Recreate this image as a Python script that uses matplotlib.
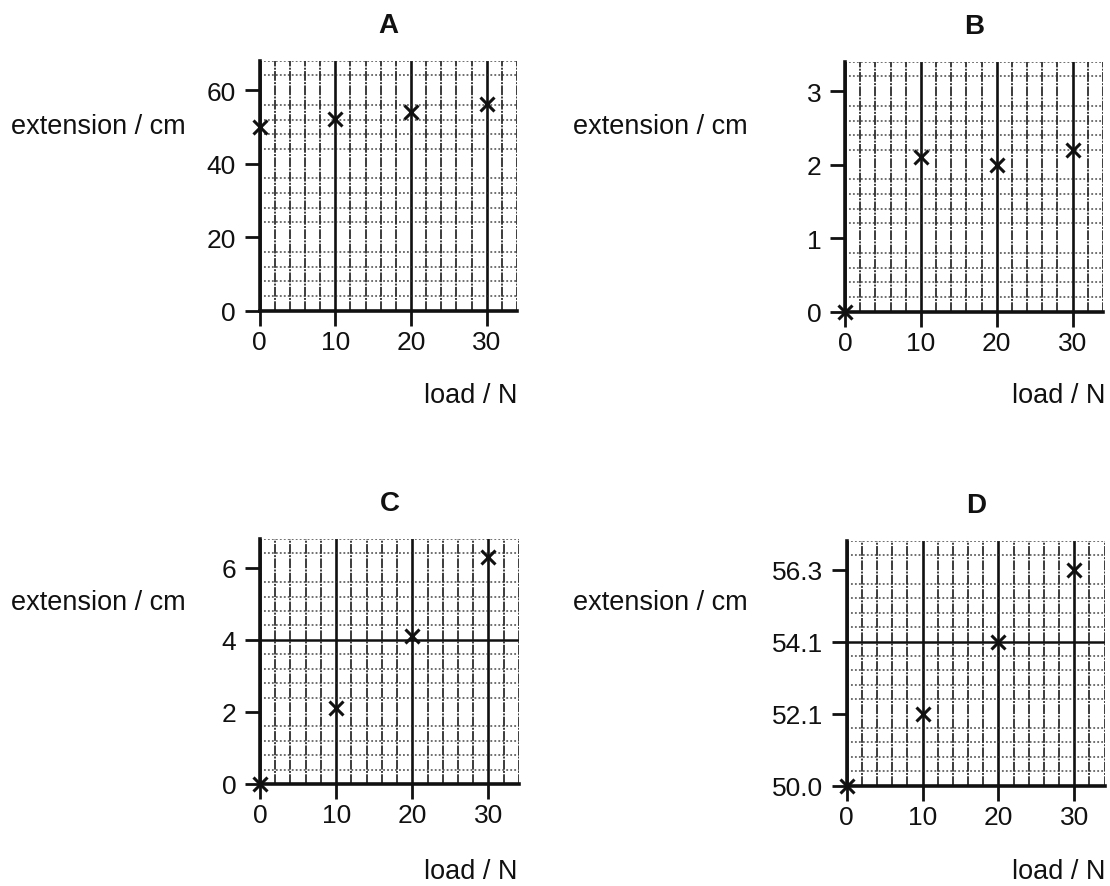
import matplotlib
matplotlib.use("Agg")
import matplotlib.pyplot as plt
import matplotlib.ticker as mticker
import numpy as np

plt.rcParams.update({
    "font.family": ["Liberation Sans", "DejaVu Sans"],
    "font.size": 19,
    "text.color": "#111111",
    "xtick.color": "#111111",
    "ytick.color": "#111111",
})

# data
load = [0, 10, 20, 30]
ext_a = [50.0, 52.1, 54.1, 56.3]
ext_b = [0.0, 2.1, 2.0, 2.2]
ext_c = [0.0, 2.1, 4.1, 6.3]
ext_d = [50.0, 52.1, 54.1, 56.3]

x_ticks = [0, 10, 20, 30]
a_ticks = [0, 20, 40, 60]
b_ticks = [0, 1, 2, 3]
c_ticks = [0, 2, 4, 6]
d_ticks = [50.0, 52.1, 54.1, 56.3]

INK = "#111111"


def d_forward(y):
    # D uses evenly spaced ticks with uneven labels: map values piecewise
    y = np.asarray(y, dtype=float)
    idx = np.arange(len(d_ticks), dtype=float)
    out = np.interp(y, d_ticks, idx)
    lo_slope = d_ticks[1] - d_ticks[0]
    hi_slope = d_ticks[-1] - d_ticks[-2]
    out = np.where(y < d_ticks[0], (y - d_ticks[0]) / lo_slope, out)
    out = np.where(y > d_ticks[-1], idx[-1] + (y - d_ticks[-1]) / hi_slope, out)
    return out


def d_inverse(v):
    v = np.asarray(v, dtype=float)
    idx = np.arange(len(d_ticks), dtype=float)
    out = np.interp(v, idx, d_ticks)
    lo_slope = d_ticks[1] - d_ticks[0]
    hi_slope = d_ticks[-1] - d_ticks[-2]
    out = np.where(v < 0, d_ticks[0] + v * lo_slope, out)
    out = np.where(v > idx[-1], d_ticks[-1] + (v - idx[-1]) * hi_slope, out)
    return out


def style_panel(ax, title, yticks, ymax, ygrid, heavy_y=None):
    ax.set_xlim(0, 34)
    ax.set_ylim(yticks[0], ymax)
    ax.set_xticks(x_ticks)
    ax.set_yticks(yticks)
    ax.xaxis.set_minor_locator(mticker.MultipleLocator(2))
    ax.yaxis.set_minor_locator(mticker.FixedLocator(ygrid))
    ax.tick_params(which="major", direction="out", length=11, width=2, color=INK)
    ax.tick_params(axis="x", pad=3)
    ax.tick_params(axis="y", pad=6)
    ax.tick_params(which="minor", length=0)
    ax.spines[["top", "right"]].set_visible(False)
    for s in ("left", "bottom"):
        ax.spines[s].set_linewidth(2.6)
        ax.spines[s].set_color(INK)
    # scanned graph paper look
    ax.grid(which="minor", axis="x", color="#1a1a1a", linewidth=1.4,
            linestyle=(0, (5, 0.7, 1, 0.7)), alpha=0.85)
    ax.grid(which="minor", axis="y", color="#2a2a2a", linewidth=1.1,
            linestyle=(0, (1.2, 1.4)), alpha=0.85)
    ax.grid(which="major", axis="x", color="#111111", linewidth=1.9)
    if heavy_y is not None:
        ax.axhline(heavy_y, color="#111111", linewidth=1.8, zorder=1)
    ax.set_title(title, fontsize=20, fontweight="bold", pad=21)


fig = plt.figure(figsize=(11.1, 8.87), dpi=100)

ax_a = fig.add_axes([0.2338, 0.6486, 0.2320, 0.2818])
ax_b = fig.add_axes([0.7613, 0.6475, 0.2324, 0.2818])
ax_c = fig.add_axes([0.2342, 0.1150, 0.2333, 0.2762])
ax_d = fig.add_axes([0.7628, 0.1131, 0.2324, 0.2762])

ax_d.set_yscale("function", functions=(d_forward, d_inverse))

style_panel(ax_a, "A", a_ticks, 68, np.arange(4, 69, 4))
style_panel(ax_b, "B", b_ticks, 3.4, np.arange(0.2, 3.41, 0.2))
style_panel(ax_c, "C", c_ticks, 6.8, np.arange(0.4, 6.81, 0.4), heavy_y=4)
style_panel(ax_d, "D", d_ticks, float(d_inverse(3.4)),
            d_inverse(np.arange(0.2, 3.41, 0.2)), heavy_y=54.1)
ax_d.yaxis.set_major_formatter(mticker.FormatStrFormatter("%.1f"))

for ax, ext in zip((ax_a, ax_b, ax_c, ax_d), (ext_a, ext_b, ext_c, ext_d)):
    ax.plot(load, ext, linestyle="none", marker="x", color=INK,
            markersize=10, markeredgewidth=2.2, clip_on=False, zorder=5)

# axis labels placed like the printed page
for x, y in ((11, 127), (573, 127), (11, 603), (573, 603)):
    fig.text(x / 1110, 1 - y / 887, "extension / cm", ha="left", va="center",
             fontsize=19.5)
for x, y in ((518, 396), (1105, 396), (518, 872), (1105, 872)):
    fig.text(x / 1110, 1 - y / 887, "load / N", ha="right", va="center",
             fontsize=19.5)

fig.savefig("out.png", dpi=100, facecolor="white")
